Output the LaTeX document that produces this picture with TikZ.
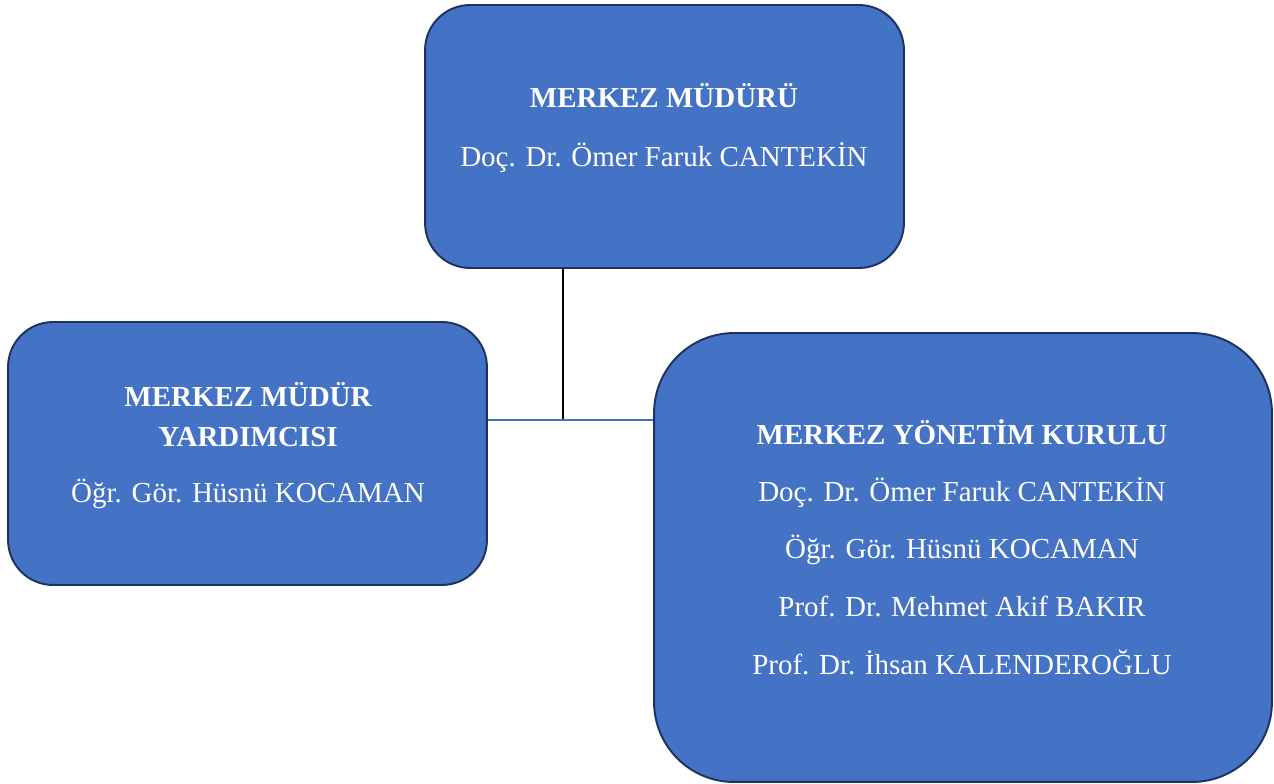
\documentclass[tikz,border=0pt]{standalone}
\usepackage{fontspec}
\setmainfont{Liberation Serif}
\definecolor{kutu}{HTML}{4472C4}
\definecolor{kenar}{HTML}{1C3260}
\definecolor{baglanti}{HTML}{4472C4}
\begin{document}
\begin{tikzpicture}[x=0.02cm, y=-0.02cm]
\tikzstyle{kutu} = [draw=kenar, fill=kutu, line width=1.1pt, inner sep=0pt, rounded corners=0.9cm]
\tikzstyle{satir} = [anchor=base, text=white, inner sep=0pt, font=\fontsize{16.5}{20}\selectfont]
\tikzstyle{baslik} = [satir, font=\fontsize{16.5}{20}\selectfont\bfseries]
\useasboundingbox (0,0) rectangle (1274,784);
% kutular
\node[kutu, minimum width=9.58cm, minimum height=5.26cm] (mudur) at (664.5,136.5) {};
\node[kutu, minimum width=9.58cm, minimum height=5.26cm] (yardimci) at (247.5,453.5) {};
\node[kutu, minimum width=12.36cm, minimum height=8.98cm, rounded corners=1.6cm] (kurul) at (963,557.5) {};
% yazilar
\node[baslik] (m1) at (664,108) {MERKEZ MÜDÜRÜ};
\node[satir] (m2) at (664,166) {Doç. Dr. Ömer Faruk CANTEKİN};
\node[baslik] (y1) at (248,406) {MERKEZ MÜDÜR};
\node[baslik] (y2) at (248,446) {YARDIMCISI};
\node[satir] (y3) at (248,502) {Öğr. Gör. Hüsnü KOCAMAN};
\node[baslik] (k1) at (962,444) {MERKEZ YÖNETİM KURULU};
\node[satir] (k2) at (962,501) {Doç. Dr. Ömer Faruk CANTEKİN};
\node[satir] (k3) at (962,558) {Öğr. Gör. Hüsnü KOCAMAN};
\node[satir] (k4) at (962,616) {Prof. Dr. Mehmet Akif BAKIR};
\node[satir] (k5) at (962,674) {Prof. Dr. İhsan KALENDEROĞLU};
% baglantilar
\coordinate (dugum) at (563,420);
\draw[black, line width=0.6pt] (dugum |- mudur.south) -- (dugum);
\draw[baglanti, line width=0.6pt] (yardimci.east |- dugum) -- (kurul.west |- dugum);
\end{tikzpicture}
\end{document}
